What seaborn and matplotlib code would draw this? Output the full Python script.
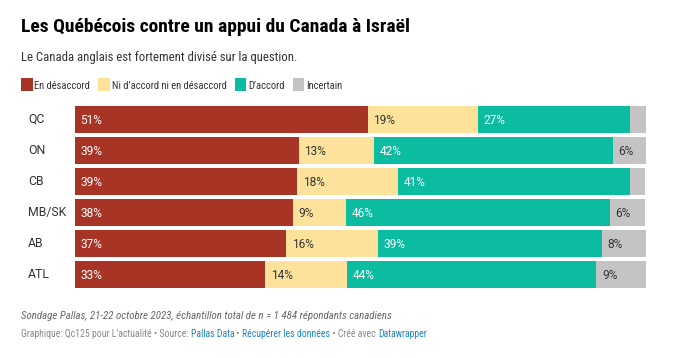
import matplotlib
matplotlib.use("Agg")
import matplotlib.pyplot as plt
import matplotlib.transforms as mtransforms
from matplotlib import font_manager as fm
from matplotlib.patches import Rectangle
import numpy as np
import pandas as pd
import seaborn as sns

# data (Pallas, 21-22 oct. 2023), in %
regions = ["QC", "ON", "CB", "MB/SK", "AB", "ATL"]
desaccord = [51.3, 39.2, 38.9, 38.2, 37.0, 33.3]
neutre = [19.3, 13.2, 17.7, 9.3, 16.1, 14.4]
accord = [26.6, 41.8, 40.6, 46.2, 39.2, 43.6]
incertain = [2.8, 5.8, 2.6, 6.1, 7.7, 8.7]

series = ["En désaccord", "Ni d’accord ni en désaccord", "D’accord", "Incertain"]
colors = ["#a83426", "#fde29c", "#0bbca0", "#c4c4c4"]
label_colors = ["white", "#333333", "white", "#333333"]

W, H = 679, 358

sns.set_theme(style="white")
plt.rcParams["font.family"] = ["Roboto", "DejaVu Sans"]

# header / legend / footer use a narrow face in the original
names = {f.name for f in fm.fontManager.ttflist}
if "Roboto Condensed" in names:
    head_font = ["Roboto Condensed", "DejaVu Sans"]
    k = 1.0
else:
    head_font = ["Roboto", "DejaVu Sans"]
    k = 0.86

df = pd.DataFrame({"region": regions, series[0]: desaccord, series[1]: neutre,
                   series[2]: accord, series[3]: incertain})
vals = df[series].to_numpy()
cum = vals.cumsum(axis=1)
starts = cum - vals


def fp(x, y):
    # pixel position -> figure fraction
    return x / W, 1 - y / H


fig = plt.figure(figsize=(W / 100, H / 100), dpi=100, facecolor="white")
ax = fig.add_axes([75 / W, 1 - 290 / H, 571 / W, 186 / H])

# stacked bars: draw cumulative totals from the largest down
for i in range(3, -1, -1):
    d = pd.DataFrame({"region": regions, "value": cum[:, i]})
    sns.barplot(data=d, x="value", y="region", order=regions, orient="h",
                color=colors[i], saturation=1, width=0.87, errorbar=None,
                linewidth=0, ax=ax)

ax.set_xlim(0, 100)
ax.set_ylim(5.5, -0.5)
ax.set_axis_off()

for r in range(len(regions)):
    for i in range(4):
        v = vals[r, i]
        if v >= 5:
            ax.annotate(f"{round(v)}%", xy=(starts[r, i], r), xytext=(4, -0.5),
                        textcoords="offset points", va="center", ha="left",
                        fontsize=8.6, color=label_colors[i])

blend = mtransforms.blended_transform_factory(fig.transFigure, ax.transData)
for r, name in enumerate(regions):
    ax.text(28 / W, r, name, transform=blend, va="center", ha="left",
            fontsize=8.8, color="#333333")

# titles
fig.text(*fp(21, 32), "Les Québécois contre un appui du Canada à Israël",
         fontsize=14 * k, fontweight="bold", color="#000000", va="baseline",
         family=head_font)
fig.text(*fp(21, 61.5), "Le Canada anglais est fortement divisé sur la question.",
         fontsize=9.2 * k, color="#333333", va="baseline", family=head_font)

renderer = fig.canvas.get_renderer()

# legend
x = 21
for name, c in zip(series, colors):
    fig.patches.append(Rectangle(fp(x, 91), 11.5 / W, 13 / H, transform=fig.transFigure,
                                 facecolor=c, edgecolor="none", figure=fig))
    t = fig.text(*fp(x + 13.5, 89.3), name, fontsize=7.6 * k, color="#333333",
                 va="baseline", family=head_font)
    x = x + 13.5 + t.get_window_extent(renderer).width + 8

# footer
fig.text(*fp(21, 319), "Sondage Pallas, 21-22 octobre 2023, échantillon total de n = 1 484 répondants canadiens",
         fontsize=7.8 * k, style="italic", color="#666666", va="baseline", family=head_font)

pieces = [("Graphique: Qc125 pour L’actualité • Source: ", "#888888"),
          ("Pallas Data", "#1a86c8"),
          (" • ", "#888888"),
          ("Récupérer les données", "#1a86c8"),
          (" • Créé avec ", "#888888"),
          ("Datawrapper", "#1a86c8")]
foot_size = 7.0 * k


def text_w(s):
    t = fig.text(0, 0, s, fontsize=foot_size, family=head_font)
    w = t.get_window_extent(renderer).width
    t.remove()
    return w


prefix = ""
for s, c in pieces:
    off = text_w(prefix + "x") - text_w("x") if prefix else 0
    fig.text(*fp(21 + off, 336.8), s, fontsize=foot_size, color=c, va="baseline",
             family=head_font)
    prefix += s

fig.savefig("out.png", dpi=100, facecolor="white")
